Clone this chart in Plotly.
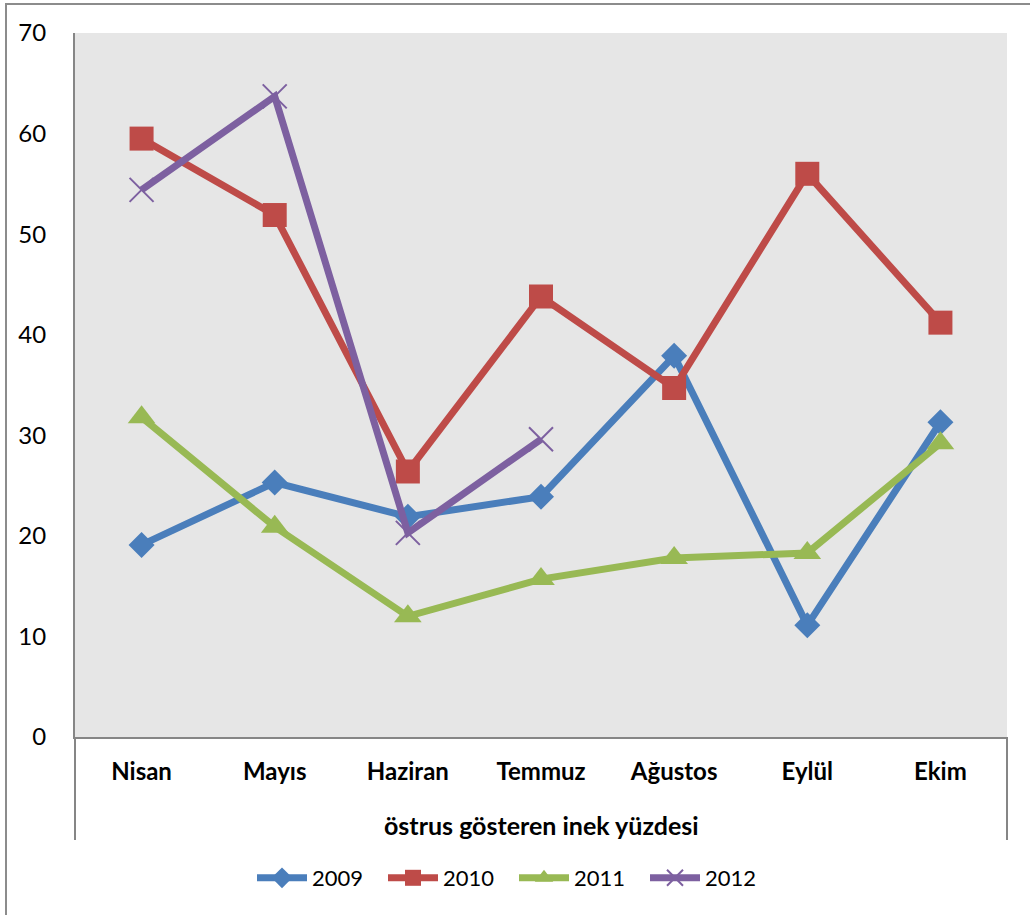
import plotly.graph_objects as go

# Months on the category axis
months = ["Nisan", "Mayıs", "Haziran", "Temmuz", "Ağustos", "Eylül", "Ekim"]
group_label = "östrus gösteren inek yüzdesi"

# Percentage of cows showing oestrus, per year
y2009 = [19.1, 25.3, 21.9, 23.9, 37.9, 11.1, 31.3]
y2010 = [59.5, 51.9, 26.4, 43.8, 34.7, 56.0, 41.2]
y2011 = [31.8, 20.9, 12.0, 15.7, 17.8, 18.3, 29.2]
y2012 = [54.4, 63.7, 20.3, 29.6]

years = ["2009", "2010", "2011", "2012"]
series = [y2009, y2010, y2011, y2012]
colors = ["#4A7EBB", "#BE4B48", "#98B954", "#7D60A0"]
symbols = ["diamond", "square", "triangle-up", "x-thin"]
sizes = [20, 24, 24, 24]

W, H = 1030, 915
L, R, T, B = 75, 23, 33, 178
PW, PH = W - L - R, H - T - B

FONT = "Lato"

fig = go.Figure()
for name, vals, col, sym, sz in zip(years, series, colors, symbols, sizes):
    marker = dict(symbol=sym, size=sz, color=col)
    if sym == "x-thin":
        marker["line"] = dict(color=col, width=2)
    fig.add_trace(go.Scatter(
        x=months[:len(vals)], y=vals, name=name, mode="lines+markers",
        line=dict(color=col, width=7), marker=marker,
    ))


def px_x(px):
    return (px - L) / PW


def px_y(py):
    return (H - B - py) / PH


shapes = [
    # separators of the category-group band
    dict(type="line", xref="paper", yref="paper", x0=0, x1=0,
         y0=0, y1=px_y(840), line=dict(color="#868686", width=2)),
    dict(type="line", xref="paper", yref="paper", x0=1, x1=1,
         y0=0, y1=px_y(840), line=dict(color="#868686", width=2)),
    # chart frame
    dict(type="rect", xref="paper", yref="paper",
         x0=px_x(6), x1=px_x(1040), y0=px_y(925), y1=px_y(4),
         line=dict(color="#8C8C8C", width=2), layer="below"),
]

fig.update_layout(
    width=W, height=H,
    margin=dict(l=L, r=R, t=T, b=B, autoexpand=False),
    paper_bgcolor="white",
    plot_bgcolor="#E6E6E6",
    font=dict(family=FONT, size=22, color="black"),
    showlegend=True,
    legend=dict(orientation="h", x=px_x(252), xanchor="left",
                y=px_y(878), yanchor="middle",
                font=dict(family=FONT, size=22, color="black"),
                entrywidth=66, entrywidthmode="pixels",
                itemwidth=50, tracegroupgap=0),
    shapes=shapes,
    annotations=[dict(text="<b>" + group_label + "</b>", xref="paper", yref="paper",
                      x=px_x(541), y=px_y(825), showarrow=False,
                      font=dict(family=FONT, size=25, color="black"),
                      xanchor="center", yanchor="middle")],
)
fig.update_xaxes(
    type="category", categoryorder="array", categoryarray=months,
    range=[-0.5, 6.5], showgrid=False, zeroline=False,
    showline=True, linecolor="#868686", linewidth=2,
    tickvals=months, ticktext=["<b>" + m + "</b>" for m in months],
    tickfont=dict(family=FONT, size=24, color="black"),
    ticklabelstandoff=12,
)
fig.update_yaxes(
    range=[0, 70], dtick=10, showgrid=False, zeroline=False,
    showline=True, linecolor="#868686", linewidth=2,
    tickfont=dict(family=FONT, size=24, color="black"),
    ticklabelstandoff=22,
)

fig.write_html("out.html")
